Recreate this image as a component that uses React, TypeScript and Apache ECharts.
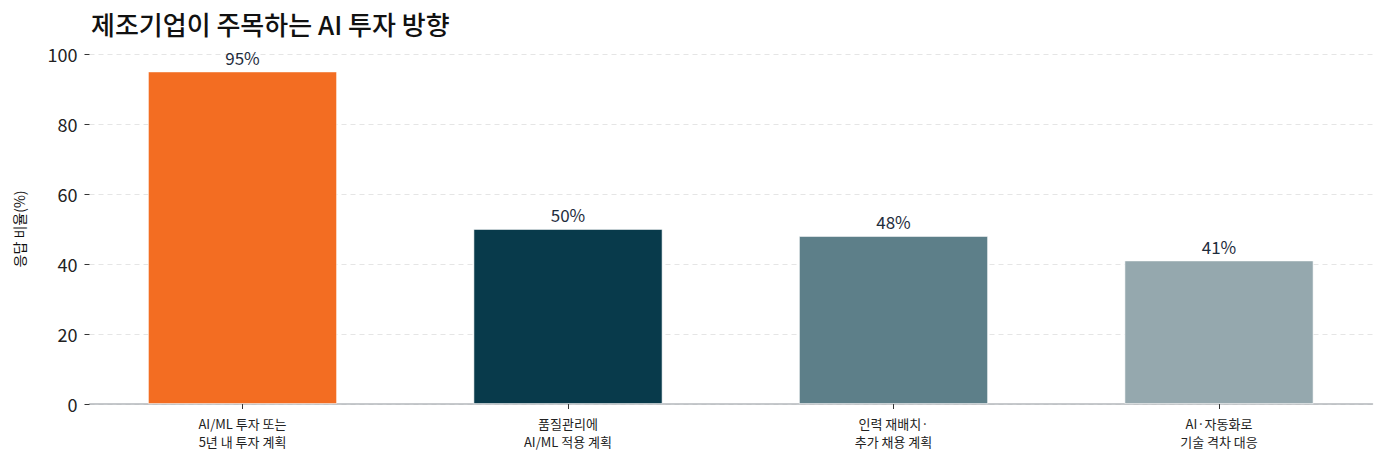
import { useEffect, useRef } from 'react';
import * as echarts from 'echarts';

const categories = [
  'AI/ML 투자 또는\n5년 내 투자 계획',
  '품질관리에\nAI/ML 적용 계획',
  '인력 재배치·\n추가 채용 계획',
  'AI·자동화로\n기술 격차 대응',
];
const values = [95, 50, 48, 41];
const barColors = ['#f36d22', '#083a4b', '#5d7f89', '#95a8ae'];
const yTicks = [0, 20, 40, 60, 80, 100];

const FONT = '"Noto Sans CJK KR", "Noto Sans", sans-serif';

export default function App() {
  const chartRef = useRef<HTMLDivElement>(null);

  useEffect(() => {
    document.body.style.margin = '0';
    if (!chartRef.current) return;
    const chart = echarts.init(chartRef.current, undefined, { renderer: 'svg' });
    chart.setOption({
      animation: false,
      backgroundColor: '#ffffff',
      textStyle: { fontFamily: FONT },
      title: {
        text: '제조기업이 주목하는 AI 투자 방향',
        left: 86,
        top: 5,
        textStyle: { fontFamily: FONT, fontSize: 26, fontWeight: 500, color: '#111111' },
      },
      grid: [
        { left: 79.75, right: 4.25, top: 54, bottom: 63 },
        { left: 89.5, right: 13.5, top: 54, bottom: 63 },
      ],
      xAxis: [
        {
          type: 'category',
          gridIndex: 0,
          data: categories,
          axisLine: { show: false },
          axisTick: { show: true, alignWithLabel: true, length: 5, lineStyle: { color: '#333333' } },
          axisLabel: { fontFamily: FONT, fontSize: 13, color: '#222222', lineHeight: 18, margin: 10 },
        },
        {
          type: 'value',
          gridIndex: 1,
          min: 0,
          max: 1,
          axisLine: { show: true, lineStyle: { color: '#b3b7bb', width: 1.5 } },
          axisTick: { show: false },
          axisLabel: { show: false },
          splitLine: { show: false },
        },
      ],
      yAxis: [
        {
          type: 'value',
          gridIndex: 0,
          min: 0,
          max: 100,
          interval: 20,
          show: false,
        },
        {
          type: 'value',
          gridIndex: 1,
          min: yTicks[0],
          max: yTicks[yTicks.length - 1],
          interval: 20,
          name: '응답 비율(%)',
          nameLocation: 'middle',
          nameGap: 64,
          nameTextStyle: { fontFamily: FONT, fontSize: 14, color: '#111111' },
          axisLine: { show: false },
          axisTick: { show: true, length: 5, lineStyle: { color: '#333333' } },
          axisLabel: { fontFamily: FONT, fontSize: 18, color: '#222222', margin: 12 },
          splitLine: { show: true, lineStyle: { color: '#e5e5e5', type: [5, 4], width: 1 } },
        },
      ],
      series: [
        {
          type: 'bar',
          xAxisIndex: 0,
          yAxisIndex: 0,
          barWidth: 189,
          data: values.map((v, i) => ({ value: v, itemStyle: { color: barColors[i] } })),
          itemStyle: { borderColor: 'rgba(255,255,255,0.7)', borderWidth: 0.8 },
          label: {
            show: true,
            position: 'top',
            distance: 6,
            formatter: '{c}%',
            fontFamily: FONT,
            fontSize: 17,
            color: '#1f2d3d',
          },
        },
      ],
    });
    return () => chart.dispose();
  }, []);

  return <div ref={chartRef} style={{ width: 1386, height: 467 }} />;
}
